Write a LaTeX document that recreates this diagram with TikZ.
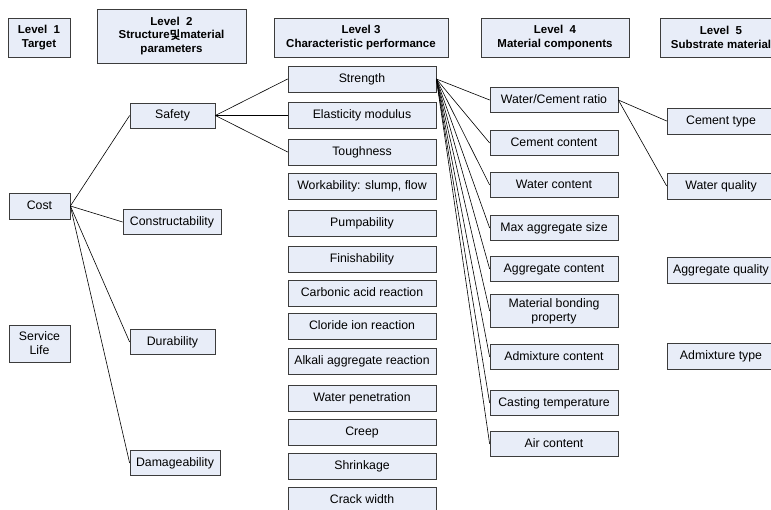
\documentclass[tikz,border=0pt]{standalone}
\usepackage{fontspec}
\setmainfont{Liberation Sans}
\newfontfamily\krfont{Noto Sans CJK KR}[AutoFakeBold=2.5]
\usetikzlibrary{shadows}
\definecolor{boxfill}{HTML}{E8EDF8}
\definecolor{boxline}{HTML}{3C3C3C}
\tikzset{
  lvbox/.style={draw=boxline,fill=boxfill,line width=.7pt,inner sep=1pt,
    drop shadow={shadow xshift=.7pt,shadow yshift=-.7pt,fill=boxline,opacity=1},
    minimum height=25pt,align=center,font=\fontsize{12.3}{14}\selectfont},
  oneline/.style={text height=8.8pt,text depth=2.2pt},
  headbox/.style={lvbox,minimum height=39pt,font=\fontsize{11.5}{13.5}\selectfont\bfseries},
  link/.style={draw=black,line width=.6pt}
}
\begin{document}
\begin{tikzpicture}[x=1pt,y=-1pt]
\useasboundingbox[fill=white](0,0)rectangle(771,510);
% headers
\node[headbox,minimum width=62pt](h1)at(39,37.5){Level\ \ 1\\Target};
\node[headbox,minimum width=149pt,minimum height=54pt](h2)at(171.5,36){Level\ \ 2\\Structure{\krfont 및}material\\parameters};
\node[headbox,minimum width=174pt](h3)at(361,37.5){Level 3\\Characteristic performance};
\node[headbox,minimum width=148pt](h4)at(555,37.5){Level\ \ 4\\Material components};
\node[headbox,minimum width=122pt](h5)at(721,37.5){Level\ \ 5\\Substrate material};
% level 1
\node[lvbox,oneline,minimum width=61pt,minimum height=26pt](cost)at(39.5,206){Cost};
\node[lvbox,minimum width=61pt,minimum height=37pt](life)at(39.5,343.5){Service\\Life};
% level 2
\node[lvbox,oneline,minimum width=85pt](safety)at(172.5,115.5){Safety};
\node[lvbox,oneline,minimum width=98pt](constr)at(172,222){Constructability};
\node[lvbox,oneline,minimum width=85pt](durab)at(172.5,342){Durability};
\node[lvbox,oneline,minimum width=90pt](damage)at(175,463){Damageability};
% level 3
\foreach \nm/\y/\txt in {strength/79/Strength,elastic/115.5/Elasticity modulus,tough/152/Toughness,
  work/186/{Workability: slump, flow},pump/223/Pumpability,finish/259/Finishability,
  carbon/293/Carbonic acid reaction,chlor/326/Cloride ion reaction,alkali/361/Alkali aggregate reaction,
  waterpen/398/Water penetration,creep/432.5/Creep,shrink/466.5/Shrinkage,crack/500/Crack width}
  \node[lvbox,oneline,minimum width=148pt,minimum height=26pt](\nm)at(362,\y){\txt};
% level 4
\foreach \nm/\y/\txt in {wc/100/{Water/Cement ratio},cem/143/Cement content,wat/185/Water content,
  maxagg/228/Max aggregate size,agg/269/Aggregate content,admix/357/Admixture content,
  cast/403/Casting temperature,air/444/Air content}
  \node[lvbox,oneline,minimum width=128pt](\nm)at(554,\y){\txt};
\node[lvbox,minimum width=128pt,minimum height=33pt](bond)at(554,311){Material bonding\\property};
% level 5
\node[lvbox,oneline,minimum width=108pt,minimum height=26pt](cemtype)at(721,121){Cement type};
\node[lvbox,oneline,minimum width=108pt,minimum height=26pt](watq)at(721,186){Water quality};
\node[lvbox,oneline,minimum width=108pt,minimum height=26pt](aggq)at(721,270){Aggregate quality};
\node[lvbox,oneline,minimum width=108pt,minimum height=26pt](admt)at(721,356){Admixture type};
% connectors
\foreach \b in {safety,constr,durab,damage}\draw[link](cost.east)--(\b.west);
\foreach \b in {strength,elastic,tough}\draw[link](safety.east)--(\b.west);
\foreach \b in {wc,cem,wat,maxagg,agg,bond,admix,cast,air}\draw[link](strength.east)--(\b.west);
\draw[link](wc.east)--(cemtype.west);
\draw[link](wc.east)--(watq.west);
\end{tikzpicture}
\end{document}
